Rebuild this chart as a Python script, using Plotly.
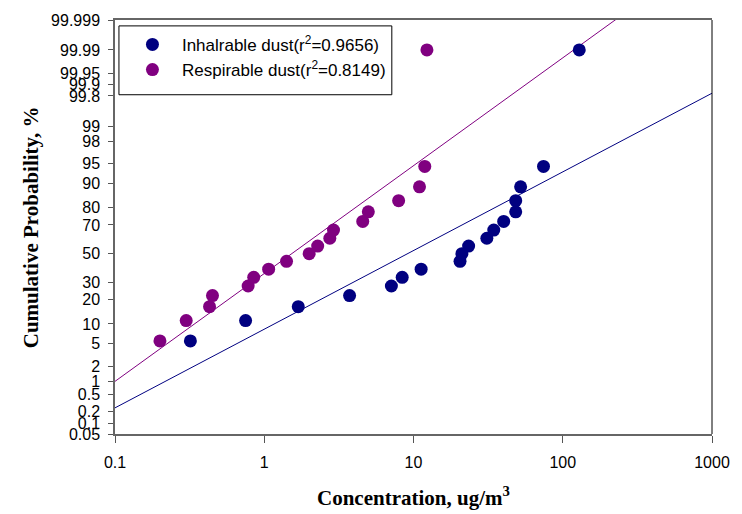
import plotly.graph_objects as go
from statistics import NormalDist
import numpy as np

# Measured concentrations (ug/m3), sorted ascending
inhalable_conc = [0.32, 0.75, 1.69, 3.73, 7.11, 8.40, 11.25, 20.5, 21.1, 23.4,
                  31.0, 34.5, 40.2, 48.4, 48.4, 52.2, 74.3, 129.0]
respirable_conc = [0.20, 0.30, 0.43, 0.45, 0.78, 0.85, 1.07, 1.41, 2.00, 2.28,
                   2.75, 2.91, 4.57, 4.98, 7.95, 10.97, 11.9, 12.3]

# Cumulative probability (%) assigned to each ranked sample
cum_prob = [5.56, 11.11, 16.67, 22.22, 27.78, 33.33, 38.89, 44.44, 50.0, 55.56,
            61.11, 66.67, 72.22, 77.78, 83.33, 88.89, 94.44, 99.99]

# Log-probit regression lines: z = intercept + slope * log10(conc)
inhalable_fit = {"intercept": -1.378, "slope": 1.4355}
respirable_fit = {"intercept": -0.362, "slope": 1.968}
fit_x = [0.1, 1000.0]

# Probability-axis tick labels (%)
prob_ticks = ["99.999", "99.99", "99.95", "99.9", "99.8", "99", "98", "95", "90",
              "80", "70", "50", "30", "20", "10", "5", "2", "1", "0.5", "0.2",
              "0.1", "0.05"]
conc_ticks = [0.1, 1, 10, 100, 1000]

nd = NormalDist()


def probit(pct):
    return nd.inv_cdf(float(pct) / 100.0)


def fit_line(fit):
    xs = np.array(fit_x)
    return xs, fit["intercept"] + fit["slope"] * np.log10(xs)


NAVY = "#000080"
PURPLE = "#800080"
SANS = "Liberation Sans, Arial, sans-serif"
SERIF = "Liberation Serif, Times New Roman, serif"

W, H = 742, 514
ML, MR, MT, MB = 115, 21, 13, 80
PW, PH = W - ML - MR, H - MT - MB


def paper_x(px):
    return (px - ML) / PW


def paper_y(py):
    return (H - MB - py) / PH


fig = go.Figure()

bx, bz = fit_line(inhalable_fit)
px_, pz = fit_line(respirable_fit)
fig.add_trace(go.Scatter(x=bx, y=bz, mode="lines", line=dict(color=NAVY, width=1),
                         showlegend=False, hoverinfo="skip"))
fig.add_trace(go.Scatter(x=px_, y=pz, mode="lines", line=dict(color=PURPLE, width=1),
                         showlegend=False, hoverinfo="skip"))

fig.add_trace(go.Scatter(
    x=inhalable_conc, y=[probit(p) for p in cum_prob], mode="markers",
    marker=dict(color=NAVY, size=13),
    name="Inhalrable dust(r<sup>2</sup>=0.9656)", cliponaxis=False))
fig.add_trace(go.Scatter(
    x=respirable_conc, y=[probit(p) for p in cum_prob], mode="markers",
    marker=dict(color=PURPLE, size=13),
    name="Respirable dust(r<sup>2</sup>=0.8149)", cliponaxis=False))

fig.update_xaxes(
    type="log", range=[-1, 3],
    tickvals=conc_ticks, ticktext=[str(t) for t in conc_ticks],
    ticks="outside", ticklen=7, tickcolor="#555555", ticklabelstandoff=6,
    showline=True, linecolor="#666666", linewidth=1.5, mirror=True,
    showgrid=False, zeroline=False,
    tickfont=dict(family=SANS, size=16, color="#000000"),
)
fig.update_yaxes(
    range=[probit(0.05), probit(99.999)],
    tickvals=[probit(t) for t in prob_ticks], ticktext=prob_ticks,
    ticks="outside", ticklen=5, tickcolor="#555555", ticklabelstandoff=5,
    showline=True, linecolor="#666666", linewidth=1.5,
    showgrid=False, zeroline=False,
    tickfont=dict(family=SANS, size=16, color="#000000"),
)

# Right-hand frame edge
fig.add_shape(type="line", xref="paper", yref="paper", x0=1, x1=1, y0=0, y1=1,
              line=dict(color="#000000", width=1))
# Legend frame
fig.add_shape(type="rect", xref="paper", yref="paper",
              x0=paper_x(119), x1=paper_x(396), y0=paper_y(89), y1=paper_y(19),
              line=dict(color="#000000", width=1), layer="above")

fig.add_annotation(text="<b>Concentration, ug/m<sup>3</sup></b>", xref="paper", yref="paper",
                   x=0.5, y=paper_y(498), xanchor="center", yanchor="middle", showarrow=False,
                   font=dict(family=SERIF, size=21, color="#000000"))
fig.add_annotation(text="<b>Cumulative Probability, %</b>", xref="paper", yref="paper",
                   x=paper_x(30), y=0.5, xanchor="center", yanchor="middle", showarrow=False,
                   textangle=-90, font=dict(family=SERIF, size=21, color="#000000"))

fig.update_layout(
    width=W, height=H,
    margin=dict(l=ML, r=MR, t=MT, b=MB),
    plot_bgcolor="#ffffff", paper_bgcolor="#ffffff",
    legend=dict(x=paper_x(119), y=paper_y(20), xanchor="left", yanchor="top",
                bgcolor="rgba(0,0,0,0)", borderwidth=0,
                indentation=4, itemwidth=49,
                font=dict(family=SANS, size=17, color="#000000")),
)

fig.write_html("out.html")
